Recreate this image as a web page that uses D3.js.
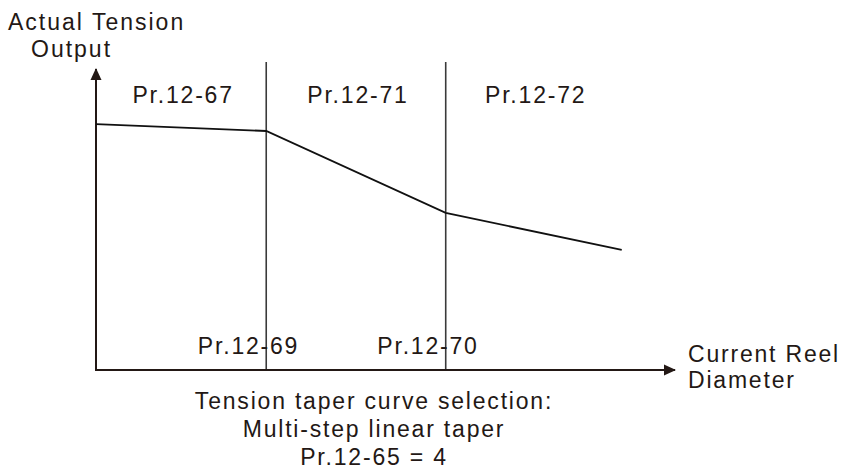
<!DOCTYPE html>
<html>
<head>
<meta charset="utf-8">
<script src="https://cdn.jsdelivr.net/npm/d3@7"></script>
<style>
html,body{margin:0;padding:0;background:#fff;}
svg{display:block;}
text{font-family:"Liberation Sans",Arial,Helvetica,sans-serif;fill:#231815;}
</style>
</head>
<body>
<svg id="chart" width="841" height="473"></svg>
<script>
// ---- data ----
const diameters = [0, 29.4, 60.4, 90.8];           // current reel diameter (relative)
const tensions  = [81.7, 79.4, 52.2, 39.9];         // actual tension output (relative)
const breakLabels = ["Pr.12-69", "Pr.12-70"];       // diameter break points
const regionLabels = ["Pr.12-67", "Pr.12-71", "Pr.12-72"];
const yTitle = ["Actual Tension", "Output"];
const xTitle = ["Current Reel", "Diameter"];
const caption = ["Tension taper curve selection:", "Multi-step linear taper", "Pr.12-65 = 4"];

// ---- layout ----
const svg = d3.select("#chart");
const ink = "#231815";
const x = d3.scaleLinear().domain([0, 100]).range([96, 675]);
const y = d3.scaleLinear().domain([0, 100]).range([370, 69]);
const fs = 23, ls = 1.8;

svg.append("defs").html(
  `<marker id="arr" viewBox="0 0 12 12" refX="11" refY="6" markerWidth="12" markerHeight="12" markerUnits="userSpaceOnUse" orient="auto">
     <path d="M0,0.5 L12,6 L0,11.5 Z" fill="${ink}"/>
   </marker>`);

// break-point vertical lines
const breaks = diameters.slice(1, 3);
svg.selectAll("line.brk").data(breaks).enter().append("line")
  .attr("class", "brk")
  .attr("x1", d => x(d)).attr("x2", d => x(d))
  .attr("y1", y(102.3)).attr("y2", y(0))
  .attr("stroke", "#3a3a3a").attr("stroke-width", 1.6);

// axes
svg.append("line").attr("x1", x(0)).attr("x2", x(0)).attr("y1", y(0)).attr("y2", y(100))
  .attr("stroke", ink).attr("stroke-width", 2).attr("marker-end", "url(#arr)");
svg.append("line").attr("x1", x(0) - 1).attr("x2", x(100)).attr("y1", y(0)).attr("y2", y(0))
  .attr("stroke", ink).attr("stroke-width", 2.2).attr("marker-end", "url(#arr)");

// taper curve
const line = d3.line().x((d, i) => x(diameters[i])).y(d => y(d));
svg.append("path").datum(tensions).attr("d", line)
  .attr("fill", "none").attr("stroke", "#111").attr("stroke-width", 1.8);

// region labels
const bounds = [diameters[0], diameters[1], diameters[2], diameters[3]];
svg.selectAll("text.reg").data(regionLabels).enter().append("text")
  .attr("class", "reg")
  .attr("x", (d, i) => (x(bounds[i]) + x(bounds[i + 1])) / 2 + 2)
  .attr("y", 102.5).attr("text-anchor", "middle")
  .attr("font-size", fs).attr("letter-spacing", ls).text(d => d);

// break labels
svg.selectAll("text.brk").data(breakLabels).enter().append("text")
  .attr("class", "brk")
  .attr("x", (d, i) => x(breaks[i]) + 33).attr("y", 354)
  .attr("text-anchor", "end")
  .attr("font-size", fs).attr("letter-spacing", ls).text(d => d);

// y title
svg.append("text").attr("x", 8).attr("y", 30).attr("font-size", fs).attr("letter-spacing", 2).text(yTitle[0]);
svg.append("text").attr("x", 31).attr("y", 57).attr("font-size", fs).attr("letter-spacing", 2).text(yTitle[1]);

// x title
xTitle.forEach((t, i) => svg.append("text").attr("x", 688).attr("y", 362 + i * 26)
  .attr("font-size", fs).attr("letter-spacing", 1.8).text(t));

// caption
caption.forEach((t, i) => svg.append("text").attr("x", 374).attr("y", 409 + i * 28)
  .attr("text-anchor", "middle").attr("font-size", fs).attr("letter-spacing", ls).text(t));
</script>
</body>
</html>
